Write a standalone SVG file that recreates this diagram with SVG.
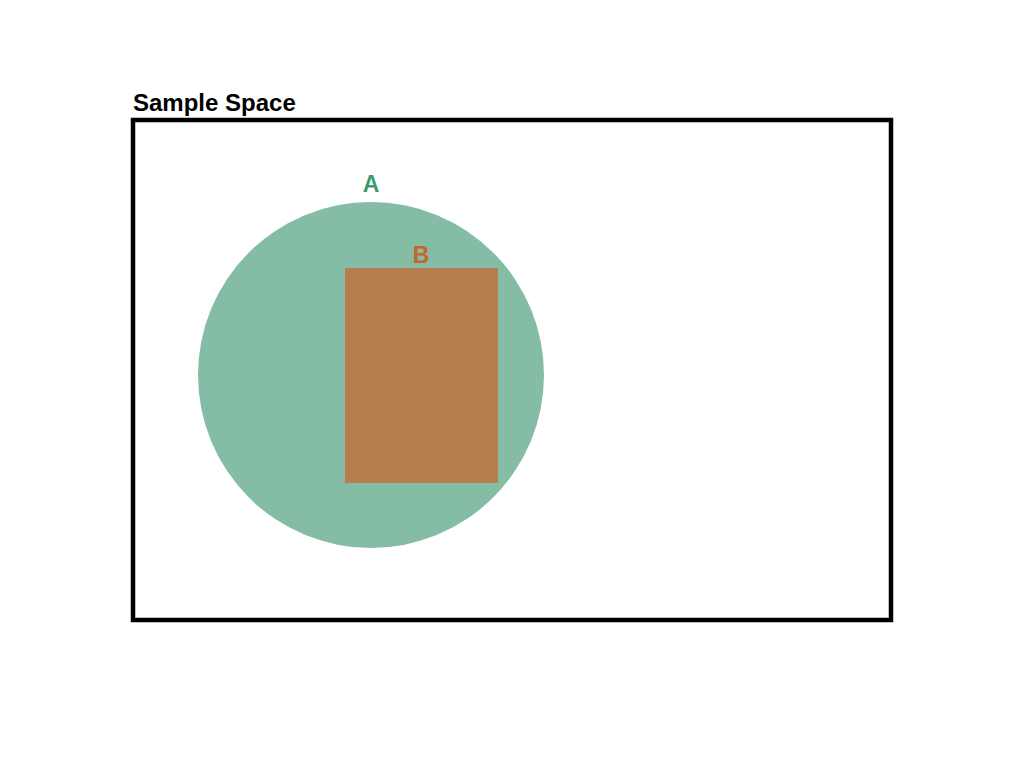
<svg xmlns="http://www.w3.org/2000/svg" width="1024" height="768" viewBox="0 0 1024 768">
<style>
text{font-family:"Liberation Sans",Arial,sans-serif;font-weight:bold}
.t{font-size:24px}
.l{font-size:23px}
</style>
<rect width="1024" height="768" fill="#ffffff"/>
<g id="sample-space">
<rect x="133" y="120" width="758" height="500" fill="none" stroke="#000" stroke-width="4.5"/>
<text class="t" x="133" y="111">Sample Space</text>
</g>
<g id="A">
<circle cx="371" cy="375" r="173" fill="#85bca5"/>
<text class="l" x="371" y="192" text-anchor="middle" fill="#3f9a72">A</text>
</g>
<g id="B">
<rect x="345" y="268" width="153" height="215" fill="#b57e4c"/>
<text class="l" x="421" y="263" text-anchor="middle" fill="#c8652a">B</text>
</g>
<g id="connectors"/>
</svg>
